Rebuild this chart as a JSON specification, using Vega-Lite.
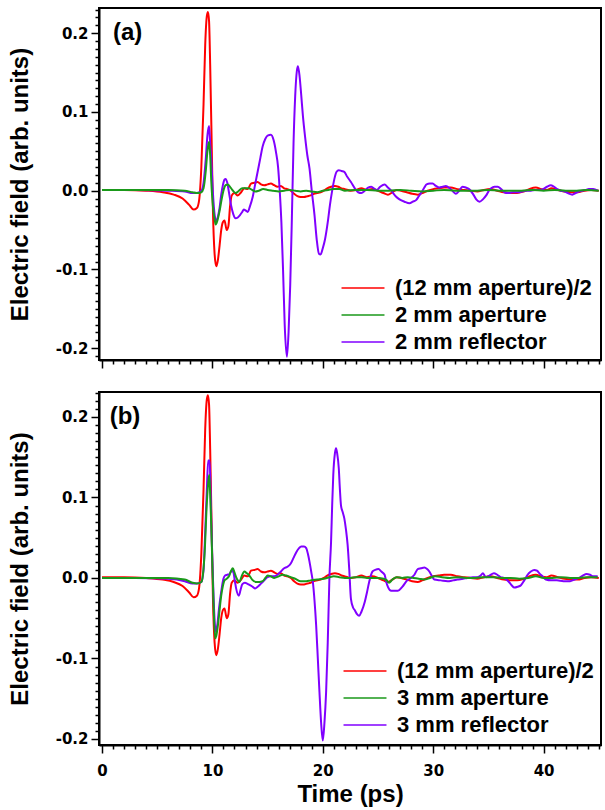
{
"$schema": "https://vega.github.io/schema/vega-lite/v6.json",
"background": "white",
"padding": {"left": 7, "top": 1, "right": 1, "bottom": 0},
"spacing": 14,
"config": {
  "view": {"stroke": "black", "strokeWidth": 2},
  "axis": {"domainColor": "black", "domainWidth": 2, "tickColor": "black", "tickWidth": 1.5, "labelFont": "DejaVu Sans", "labelFontWeight": "bold", "labelFontSize": 15, "labelColor": "black", "titleFont": "Liberation Sans", "titleFontWeight": "bold", "titleFontSize": 24, "titleColor": "black", "grid": false, "labelOverlap": false, "labelFlush": false, "labelBound": false},
  "legend": {"labelFont": "Liberation Sans", "labelFontWeight": "bold", "labelFontSize": 22, "labelColor": "black", "labelLimit": 400, "padding": 0, "rowPadding": 5}
},
"data": {"values": [
{"p":"ab","s":"(12 mm aperture)/2","t":0,"v":0.001},{"p":"ab","s":"(12 mm aperture)/2","t":2,"v":0.001},{"p":"ab","s":"(12 mm aperture)/2","t":4,"v":0.0},{"p":"ab","s":"(12 mm aperture)/2","t":5.5,"v":-0.002},{"p":"ab","s":"(12 mm aperture)/2","t":6.5,"v":-0.005},{"p":"ab","s":"(12 mm aperture)/2","t":7.3,"v":-0.01},{"p":"ab","s":"(12 mm aperture)/2","t":7.9,"v":-0.018},{"p":"ab","s":"(12 mm aperture)/2","t":8.3,"v":-0.024},{"p":"ab","s":"(12 mm aperture)/2","t":8.6,"v":-0.022},{"p":"ab","s":"(12 mm aperture)/2","t":8.8,"v":-0.012},{"p":"ab","s":"(12 mm aperture)/2","t":9.0,"v":0.03},{"p":"ab","s":"(12 mm aperture)/2","t":9.2,"v":0.11},{"p":"ab","s":"(12 mm aperture)/2","t":9.35,"v":0.185},{"p":"ab","s":"(12 mm aperture)/2","t":9.5,"v":0.222},{"p":"ab","s":"(12 mm aperture)/2","t":9.6,"v":0.227},{"p":"ab","s":"(12 mm aperture)/2","t":9.7,"v":0.215},{"p":"ab","s":"(12 mm aperture)/2","t":9.8,"v":0.16},{"p":"ab","s":"(12 mm aperture)/2","t":9.95,"v":0.05},{"p":"ab","s":"(12 mm aperture)/2","t":10.05,"v":-0.025},{"p":"ab","s":"(12 mm aperture)/2","t":10.2,"v":-0.08},{"p":"ab","s":"(12 mm aperture)/2","t":10.35,"v":-0.096},{"p":"ab","s":"(12 mm aperture)/2","t":10.5,"v":-0.088},{"p":"ab","s":"(12 mm aperture)/2","t":10.65,"v":-0.07},{"p":"ab","s":"(12 mm aperture)/2","t":10.8,"v":-0.05},{"p":"ab","s":"(12 mm aperture)/2","t":10.95,"v":-0.04},{"p":"ab","s":"(12 mm aperture)/2","t":11.1,"v":-0.038},{"p":"ab","s":"(12 mm aperture)/2","t":11.3,"v":-0.05},{"p":"ab","s":"(12 mm aperture)/2","t":11.45,"v":-0.045},{"p":"ab","s":"(12 mm aperture)/2","t":11.6,"v":-0.02},{"p":"ab","s":"(12 mm aperture)/2","t":11.75,"v":-0.006},{"p":"ab","s":"(12 mm aperture)/2","t":12.0,"v":-0.003},{"p":"ab","s":"(12 mm aperture)/2","t":12.3,"v":-0.006},{"p":"ab","s":"(12 mm aperture)/2","t":12.6,"v":-0.002},{"p":"ab","s":"(12 mm aperture)/2","t":12.9,"v":0.003},{"p":"ab","s":"(12 mm aperture)/2","t":13.2,"v":0.002},{"p":"ab","s":"(12 mm aperture)/2","t":13.5,"v":0.009},{"p":"ab","s":"(12 mm aperture)/2","t":13.8,"v":0.01},{"p":"ab","s":"(12 mm aperture)/2","t":14.1,"v":0.011},{"p":"ab","s":"(12 mm aperture)/2","t":14.4,"v":0.008},{"p":"ab","s":"(12 mm aperture)/2","t":14.7,"v":0.007},{"p":"ab","s":"(12 mm aperture)/2","t":15.0,"v":0.008},{"p":"ab","s":"(12 mm aperture)/2","t":15.3,"v":0.009},{"p":"ab","s":"(12 mm aperture)/2","t":15.6,"v":0.007},{"p":"ab","s":"(12 mm aperture)/2","t":15.9,"v":0.005},{"p":"ab","s":"(12 mm aperture)/2","t":16.2,"v":0.006},{"p":"ab","s":"(12 mm aperture)/2","t":16.5,"v":0.003},{"p":"ab","s":"(12 mm aperture)/2","t":16.8,"v":0.002},{"p":"ab","s":"(12 mm aperture)/2","t":17.1,"v":0.0},{"p":"ab","s":"(12 mm aperture)/2","t":17.4,"v":-0.004},{"p":"ab","s":"(12 mm aperture)/2","t":17.7,"v":-0.007},{"p":"ab","s":"(12 mm aperture)/2","t":18.0,"v":-0.008},{"p":"ab","s":"(12 mm aperture)/2","t":18.3,"v":-0.008},{"p":"ab","s":"(12 mm aperture)/2","t":18.6,"v":-0.007},{"p":"ab","s":"(12 mm aperture)/2","t":18.9,"v":-0.006},{"p":"ab","s":"(12 mm aperture)/2","t":19.2,"v":-0.004},{"p":"ab","s":"(12 mm aperture)/2","t":19.5,"v":-0.003},{"p":"ab","s":"(12 mm aperture)/2","t":19.8,"v":-0.002},{"p":"ab","s":"(12 mm aperture)/2","t":20.1,"v":0.0},{"p":"ab","s":"(12 mm aperture)/2","t":20.4,"v":0.003},{"p":"ab","s":"(12 mm aperture)/2","t":20.75,"v":0.005},{"p":"ab","s":"(12 mm aperture)/2","t":21.1,"v":0.006},{"p":"ab","s":"(12 mm aperture)/2","t":21.4,"v":0.005},{"p":"ab","s":"(12 mm aperture)/2","t":21.7,"v":0.003},{"p":"ab","s":"(12 mm aperture)/2","t":22.0,"v":0.002},{"p":"ab","s":"(12 mm aperture)/2","t":22.5,"v":0.0},{"p":"ab","s":"(12 mm aperture)/2","t":23.0,"v":0.001},{"p":"ab","s":"(12 mm aperture)/2","t":23.5,"v":0.003},{"p":"ab","s":"(12 mm aperture)/2","t":24.0,"v":0.001},{"p":"ab","s":"(12 mm aperture)/2","t":24.5,"v":0.002},{"p":"ab","s":"(12 mm aperture)/2","t":25.0,"v":0.0},{"p":"ab","s":"(12 mm aperture)/2","t":25.5,"v":-0.003},{"p":"ab","s":"(12 mm aperture)/2","t":25.9,"v":-0.005},{"p":"ab","s":"(12 mm aperture)/2","t":26.3,"v":-0.002},{"p":"ab","s":"(12 mm aperture)/2","t":26.7,"v":0.001},{"p":"ab","s":"(12 mm aperture)/2","t":27.1,"v":0.0},{"p":"ab","s":"(12 mm aperture)/2","t":27.6,"v":-0.002},{"p":"ab","s":"(12 mm aperture)/2","t":28.1,"v":-0.004},{"p":"ab","s":"(12 mm aperture)/2","t":28.6,"v":-0.005},{"p":"ab","s":"(12 mm aperture)/2","t":29.0,"v":-0.003},{"p":"ab","s":"(12 mm aperture)/2","t":29.5,"v":0.0},{"p":"ab","s":"(12 mm aperture)/2","t":30.0,"v":0.002},{"p":"ab","s":"(12 mm aperture)/2","t":30.5,"v":0.003},{"p":"ab","s":"(12 mm aperture)/2","t":31.0,"v":0.004},{"p":"ab","s":"(12 mm aperture)/2","t":31.6,"v":0.004},{"p":"ab","s":"(12 mm aperture)/2","t":32.2,"v":0.002},{"p":"ab","s":"(12 mm aperture)/2","t":32.8,"v":0.001},{"p":"ab","s":"(12 mm aperture)/2","t":33.4,"v":0.0},{"p":"ab","s":"(12 mm aperture)/2","t":34.0,"v":-0.001},{"p":"ab","s":"(12 mm aperture)/2","t":34.6,"v":0.001},{"p":"ab","s":"(12 mm aperture)/2","t":35.2,"v":0.002},{"p":"ab","s":"(12 mm aperture)/2","t":35.8,"v":0.0},{"p":"ab","s":"(12 mm aperture)/2","t":36.4,"v":-0.002},{"p":"ab","s":"(12 mm aperture)/2","t":37.0,"v":-0.003},{"p":"ab","s":"(12 mm aperture)/2","t":37.6,"v":-0.003},{"p":"ab","s":"(12 mm aperture)/2","t":38.2,"v":-0.001},{"p":"ab","s":"(12 mm aperture)/2","t":38.7,"v":0.002},{"p":"ab","s":"(12 mm aperture)/2","t":39.3,"v":0.004},{"p":"ab","s":"(12 mm aperture)/2","t":39.8,"v":0.002},{"p":"ab","s":"(12 mm aperture)/2","t":40.3,"v":0.001},{"p":"ab","s":"(12 mm aperture)/2","t":40.7,"v":0.003},{"p":"ab","s":"(12 mm aperture)/2","t":41.3,"v":0.001},{"p":"ab","s":"(12 mm aperture)/2","t":41.9,"v":-0.001},{"p":"ab","s":"(12 mm aperture)/2","t":42.5,"v":-0.002},{"p":"ab","s":"(12 mm aperture)/2","t":43.1,"v":-0.002},{"p":"ab","s":"(12 mm aperture)/2","t":43.7,"v":0.0},{"p":"ab","s":"(12 mm aperture)/2","t":44.3,"v":0.001},{"p":"ab","s":"(12 mm aperture)/2","t":45.0,"v":0.0},
{"p":"a","s":"2 mm reflector","t":0,"v":0.001},{"p":"a","s":"2 mm reflector","t":3,"v":0.001},{"p":"a","s":"2 mm reflector","t":6,"v":0.0},{"p":"a","s":"2 mm reflector","t":7.5,"v":-0.001},{"p":"a","s":"2 mm reflector","t":8.2,"v":-0.003},{"p":"a","s":"2 mm reflector","t":8.6,"v":-0.003},{"p":"a","s":"2 mm reflector","t":9.0,"v":0.0},{"p":"a","s":"2 mm reflector","t":9.2,"v":0.01},{"p":"a","s":"2 mm reflector","t":9.4,"v":0.04},{"p":"a","s":"2 mm reflector","t":9.55,"v":0.07},{"p":"a","s":"2 mm reflector","t":9.7,"v":0.082},{"p":"a","s":"2 mm reflector","t":9.8,"v":0.06},{"p":"a","s":"2 mm reflector","t":9.9,"v":0.04},{"p":"a","s":"2 mm reflector","t":10.0,"v":0.01},{"p":"a","s":"2 mm reflector","t":10.1,"v":-0.014},{"p":"a","s":"2 mm reflector","t":10.25,"v":-0.035},{"p":"a","s":"2 mm reflector","t":10.35,"v":-0.039},{"p":"a","s":"2 mm reflector","t":10.5,"v":-0.033},{"p":"a","s":"2 mm reflector","t":10.65,"v":-0.022},{"p":"a","s":"2 mm reflector","t":10.8,"v":-0.005},{"p":"a","s":"2 mm reflector","t":10.95,"v":0.007},{"p":"a","s":"2 mm reflector","t":11.1,"v":0.014},{"p":"a","s":"2 mm reflector","t":11.2,"v":0.015},{"p":"a","s":"2 mm reflector","t":11.35,"v":0.01},{"p":"a","s":"2 mm reflector","t":11.5,"v":-0.002},{"p":"a","s":"2 mm reflector","t":11.7,"v":-0.019},{"p":"a","s":"2 mm reflector","t":11.9,"v":-0.03},{"p":"a","s":"2 mm reflector","t":12.1,"v":-0.035},{"p":"a","s":"2 mm reflector","t":12.3,"v":-0.034},{"p":"a","s":"2 mm reflector","t":12.5,"v":-0.031},{"p":"a","s":"2 mm reflector","t":12.7,"v":-0.027},{"p":"a","s":"2 mm reflector","t":12.85,"v":-0.024},{"p":"a","s":"2 mm reflector","t":13.0,"v":-0.025},{"p":"a","s":"2 mm reflector","t":13.2,"v":-0.027},{"p":"a","s":"2 mm reflector","t":13.4,"v":-0.02},{"p":"a","s":"2 mm reflector","t":13.65,"v":-0.008},{"p":"a","s":"2 mm reflector","t":13.9,"v":0.01},{"p":"a","s":"2 mm reflector","t":14.1,"v":0.024},{"p":"a","s":"2 mm reflector","t":14.35,"v":0.042},{"p":"a","s":"2 mm reflector","t":14.55,"v":0.056},{"p":"a","s":"2 mm reflector","t":14.8,"v":0.066},{"p":"a","s":"2 mm reflector","t":15.0,"v":0.07},{"p":"a","s":"2 mm reflector","t":15.3,"v":0.071},{"p":"a","s":"2 mm reflector","t":15.55,"v":0.064},{"p":"a","s":"2 mm reflector","t":15.75,"v":0.05},{"p":"a","s":"2 mm reflector","t":15.95,"v":0.03},{"p":"a","s":"2 mm reflector","t":16.1,"v":0.0},{"p":"a","s":"2 mm reflector","t":16.25,"v":-0.04},{"p":"a","s":"2 mm reflector","t":16.4,"v":-0.1},{"p":"a","s":"2 mm reflector","t":16.55,"v":-0.17},{"p":"a","s":"2 mm reflector","t":16.75,"v":-0.211},{"p":"a","s":"2 mm reflector","t":16.9,"v":-0.18},{"p":"a","s":"2 mm reflector","t":17.05,"v":-0.12},{"p":"a","s":"2 mm reflector","t":17.2,"v":-0.035},{"p":"a","s":"2 mm reflector","t":17.35,"v":0.06},{"p":"a","s":"2 mm reflector","t":17.5,"v":0.12},{"p":"a","s":"2 mm reflector","t":17.65,"v":0.152},{"p":"a","s":"2 mm reflector","t":17.75,"v":0.158},{"p":"a","s":"2 mm reflector","t":17.9,"v":0.145},{"p":"a","s":"2 mm reflector","t":18.05,"v":0.121},{"p":"a","s":"2 mm reflector","t":18.2,"v":0.095},{"p":"a","s":"2 mm reflector","t":18.4,"v":0.068},{"p":"a","s":"2 mm reflector","t":18.6,"v":0.045},{"p":"a","s":"2 mm reflector","t":18.8,"v":0.028},{"p":"a","s":"2 mm reflector","t":19.0,"v":0.0},{"p":"a","s":"2 mm reflector","t":19.25,"v":-0.031},{"p":"a","s":"2 mm reflector","t":19.45,"v":-0.062},{"p":"a","s":"2 mm reflector","t":19.65,"v":-0.08},{"p":"a","s":"2 mm reflector","t":19.8,"v":-0.081},{"p":"a","s":"2 mm reflector","t":20.0,"v":-0.073},{"p":"a","s":"2 mm reflector","t":20.2,"v":-0.062},{"p":"a","s":"2 mm reflector","t":20.45,"v":-0.04},{"p":"a","s":"2 mm reflector","t":20.65,"v":-0.018},{"p":"a","s":"2 mm reflector","t":20.85,"v":0.0},{"p":"a","s":"2 mm reflector","t":21.05,"v":0.015},{"p":"a","s":"2 mm reflector","t":21.25,"v":0.024},{"p":"a","s":"2 mm reflector","t":21.45,"v":0.026},{"p":"a","s":"2 mm reflector","t":21.7,"v":0.025},{"p":"a","s":"2 mm reflector","t":21.95,"v":0.024},{"p":"a","s":"2 mm reflector","t":22.2,"v":0.018},{"p":"a","s":"2 mm reflector","t":22.55,"v":0.011},{"p":"a","s":"2 mm reflector","t":22.9,"v":0.003},{"p":"a","s":"2 mm reflector","t":23.2,"v":-0.002},{"p":"a","s":"2 mm reflector","t":23.5,"v":-0.003},{"p":"a","s":"2 mm reflector","t":23.8,"v":0.0},{"p":"a","s":"2 mm reflector","t":24.1,"v":0.004},{"p":"a","s":"2 mm reflector","t":24.4,"v":0.005},{"p":"a","s":"2 mm reflector","t":24.7,"v":0.002},{"p":"a","s":"2 mm reflector","t":24.9,"v":0.001},{"p":"a","s":"2 mm reflector","t":25.2,"v":0.005},{"p":"a","s":"2 mm reflector","t":25.6,"v":0.008},{"p":"a","s":"2 mm reflector","t":25.9,"v":0.004},{"p":"a","s":"2 mm reflector","t":26.2,"v":0.0},{"p":"a","s":"2 mm reflector","t":26.6,"v":-0.007},{"p":"a","s":"2 mm reflector","t":26.95,"v":-0.011},{"p":"a","s":"2 mm reflector","t":27.4,"v":-0.014},{"p":"a","s":"2 mm reflector","t":27.85,"v":-0.016},{"p":"a","s":"2 mm reflector","t":28.15,"v":-0.014},{"p":"a","s":"2 mm reflector","t":28.45,"v":-0.012},{"p":"a","s":"2 mm reflector","t":28.7,"v":-0.007},{"p":"a","s":"2 mm reflector","t":28.95,"v":-0.002},{"p":"a","s":"2 mm reflector","t":29.2,"v":0.004},{"p":"a","s":"2 mm reflector","t":29.4,"v":0.008},{"p":"a","s":"2 mm reflector","t":29.7,"v":0.009},{"p":"a","s":"2 mm reflector","t":29.95,"v":0.009},{"p":"a","s":"2 mm reflector","t":30.25,"v":0.006},{"p":"a","s":"2 mm reflector","t":30.55,"v":0.004},{"p":"a","s":"2 mm reflector","t":30.85,"v":0.005},{"p":"a","s":"2 mm reflector","t":31.15,"v":0.006},{"p":"a","s":"2 mm reflector","t":31.5,"v":0.003},{"p":"a","s":"2 mm reflector","t":31.8,"v":-0.001},{"p":"a","s":"2 mm reflector","t":32.05,"v":-0.004},{"p":"a","s":"2 mm reflector","t":32.35,"v":0.0},{"p":"a","s":"2 mm reflector","t":32.65,"v":0.005},{"p":"a","s":"2 mm reflector","t":32.95,"v":0.004},{"p":"a","s":"2 mm reflector","t":33.25,"v":0.002},{"p":"a","s":"2 mm reflector","t":33.6,"v":-0.004},{"p":"a","s":"2 mm reflector","t":33.9,"v":-0.011},{"p":"a","s":"2 mm reflector","t":34.2,"v":-0.014},{"p":"a","s":"2 mm reflector","t":34.5,"v":-0.011},{"p":"a","s":"2 mm reflector","t":34.8,"v":-0.006},{"p":"a","s":"2 mm reflector","t":35.05,"v":0.0},{"p":"a","s":"2 mm reflector","t":35.25,"v":0.003},{"p":"a","s":"2 mm reflector","t":35.55,"v":0.005},{"p":"a","s":"2 mm reflector","t":35.85,"v":0.005},{"p":"a","s":"2 mm reflector","t":36.15,"v":0.002},{"p":"a","s":"2 mm reflector","t":36.45,"v":-0.002},{"p":"a","s":"2 mm reflector","t":36.75,"v":-0.003},{"p":"a","s":"2 mm reflector","t":37.2,"v":-0.002},{"p":"a","s":"2 mm reflector","t":37.65,"v":-0.002},{"p":"a","s":"2 mm reflector","t":38.1,"v":-0.001},{"p":"a","s":"2 mm reflector","t":38.5,"v":0.0},{"p":"a","s":"2 mm reflector","t":38.85,"v":0.0},{"p":"a","s":"2 mm reflector","t":39.2,"v":0.001},{"p":"a","s":"2 mm reflector","t":39.6,"v":0.001},{"p":"a","s":"2 mm reflector","t":39.95,"v":0.002},{"p":"a","s":"2 mm reflector","t":40.3,"v":0.005},{"p":"a","s":"2 mm reflector","t":40.65,"v":0.007},{"p":"a","s":"2 mm reflector","t":40.95,"v":0.005},{"p":"a","s":"2 mm reflector","t":41.25,"v":0.002},{"p":"a","s":"2 mm reflector","t":41.55,"v":0.0},{"p":"a","s":"2 mm reflector","t":41.9,"v":-0.001},{"p":"a","s":"2 mm reflector","t":42.2,"v":-0.003},{"p":"a","s":"2 mm reflector","t":42.6,"v":-0.005},{"p":"a","s":"2 mm reflector","t":42.9,"v":-0.003},{"p":"a","s":"2 mm reflector","t":43.2,"v":-0.001},{"p":"a","s":"2 mm reflector","t":43.5,"v":0.0},{"p":"a","s":"2 mm reflector","t":43.8,"v":0.001},{"p":"a","s":"2 mm reflector","t":44.1,"v":0.002},{"p":"a","s":"2 mm reflector","t":44.5,"v":0.002},{"p":"a","s":"2 mm reflector","t":44.9,"v":0.0},
{"p":"a","s":"2 mm aperture","t":0,"v":0.001},{"p":"a","s":"2 mm aperture","t":3,"v":0.001},{"p":"a","s":"2 mm aperture","t":6,"v":0.001},{"p":"a","s":"2 mm aperture","t":7.5,"v":0.0},{"p":"a","s":"2 mm aperture","t":8.2,"v":-0.002},{"p":"a","s":"2 mm aperture","t":8.6,"v":-0.003},{"p":"a","s":"2 mm aperture","t":9.0,"v":-0.002},{"p":"a","s":"2 mm aperture","t":9.2,"v":0.003},{"p":"a","s":"2 mm aperture","t":9.4,"v":0.025},{"p":"a","s":"2 mm aperture","t":9.55,"v":0.05},{"p":"a","s":"2 mm aperture","t":9.7,"v":0.062},{"p":"a","s":"2 mm aperture","t":9.8,"v":0.045},{"p":"a","s":"2 mm aperture","t":9.9,"v":0.012},{"p":"a","s":"2 mm aperture","t":10.05,"v":-0.02},{"p":"a","s":"2 mm aperture","t":10.2,"v":-0.036},{"p":"a","s":"2 mm aperture","t":10.3,"v":-0.043},{"p":"a","s":"2 mm aperture","t":10.45,"v":-0.038},{"p":"a","s":"2 mm aperture","t":10.65,"v":-0.026},{"p":"a","s":"2 mm aperture","t":10.85,"v":-0.01},{"p":"a","s":"2 mm aperture","t":11.0,"v":0.0},{"p":"a","s":"2 mm aperture","t":11.2,"v":0.007},{"p":"a","s":"2 mm aperture","t":11.4,"v":0.008},{"p":"a","s":"2 mm aperture","t":11.6,"v":0.005},{"p":"a","s":"2 mm aperture","t":11.8,"v":0.001},{"p":"a","s":"2 mm aperture","t":12.1,"v":-0.003},{"p":"a","s":"2 mm aperture","t":12.4,"v":0.0},{"p":"a","s":"2 mm aperture","t":12.7,"v":0.003},{"p":"a","s":"2 mm aperture","t":13.0,"v":0.003},{"p":"a","s":"2 mm aperture","t":13.3,"v":0.003},{"p":"a","s":"2 mm aperture","t":13.6,"v":0.001},{"p":"a","s":"2 mm aperture","t":13.9,"v":-0.001},{"p":"a","s":"2 mm aperture","t":14.2,"v":0.0},{"p":"a","s":"2 mm aperture","t":14.6,"v":0.002},{"p":"a","s":"2 mm aperture","t":15.0,"v":0.001},{"p":"a","s":"2 mm aperture","t":15.5,"v":0.0},{"p":"a","s":"2 mm aperture","t":16.0,"v":-0.001},{"p":"a","s":"2 mm aperture","t":16.5,"v":0.0},{"p":"a","s":"2 mm aperture","t":17.0,"v":0.001},{"p":"a","s":"2 mm aperture","t":17.5,"v":0.0},{"p":"a","s":"2 mm aperture","t":18.0,"v":-0.001},{"p":"a","s":"2 mm aperture","t":18.5,"v":0.0},{"p":"a","s":"2 mm aperture","t":19.0,"v":-0.001},{"p":"a","s":"2 mm aperture","t":19.5,"v":-0.002},{"p":"a","s":"2 mm aperture","t":20.0,"v":0.0},{"p":"a","s":"2 mm aperture","t":20.5,"v":0.001},{"p":"a","s":"2 mm aperture","t":21.0,"v":0.002},{"p":"a","s":"2 mm aperture","t":21.5,"v":0.002},{"p":"a","s":"2 mm aperture","t":22.0,"v":0.0},{"p":"a","s":"2 mm aperture","t":23.0,"v":0.001},{"p":"a","s":"2 mm aperture","t":24.0,"v":0.001},{"p":"a","s":"2 mm aperture","t":25.0,"v":0.0},{"p":"a","s":"2 mm aperture","t":26.0,"v":0.0},{"p":"a","s":"2 mm aperture","t":27.0,"v":0.001},{"p":"a","s":"2 mm aperture","t":28.0,"v":0.0},{"p":"a","s":"2 mm aperture","t":29.0,"v":-0.001},{"p":"a","s":"2 mm aperture","t":30.0,"v":0.0},{"p":"a","s":"2 mm aperture","t":31.0,"v":0.001},{"p":"a","s":"2 mm aperture","t":32.0,"v":0.0},{"p":"a","s":"2 mm aperture","t":33.0,"v":0.0},{"p":"a","s":"2 mm aperture","t":34.0,"v":0.0},{"p":"a","s":"2 mm aperture","t":35.0,"v":0.001},{"p":"a","s":"2 mm aperture","t":36.0,"v":0.0},{"p":"a","s":"2 mm aperture","t":37.0,"v":0.0},{"p":"a","s":"2 mm aperture","t":38.0,"v":0.0},{"p":"a","s":"2 mm aperture","t":39.0,"v":0.001},{"p":"a","s":"2 mm aperture","t":40.0,"v":0.0},{"p":"a","s":"2 mm aperture","t":41.0,"v":0.001},{"p":"a","s":"2 mm aperture","t":42.0,"v":0.0},{"p":"a","s":"2 mm aperture","t":43.0,"v":0.0},{"p":"a","s":"2 mm aperture","t":44.0,"v":0.001},{"p":"a","s":"2 mm aperture","t":45.0,"v":0.0},
{"p":"b","s":"3 mm reflector","t":0,"v":0.0},{"p":"b","s":"3 mm reflector","t":3,"v":0.0},{"p":"b","s":"3 mm reflector","t":6,"v":-0.001},{"p":"b","s":"3 mm reflector","t":7.5,"v":-0.004},{"p":"b","s":"3 mm reflector","t":8.2,"v":-0.007},{"p":"b","s":"3 mm reflector","t":8.6,"v":-0.007},{"p":"b","s":"3 mm reflector","t":9.0,"v":-0.005},{"p":"b","s":"3 mm reflector","t":9.2,"v":0.01},{"p":"b","s":"3 mm reflector","t":9.35,"v":0.057},{"p":"b","s":"3 mm reflector","t":9.5,"v":0.11},{"p":"b","s":"3 mm reflector","t":9.62,"v":0.146},{"p":"b","s":"3 mm reflector","t":9.75,"v":0.146},{"p":"b","s":"3 mm reflector","t":9.85,"v":0.1},{"p":"b","s":"3 mm reflector","t":9.95,"v":0.045},{"p":"b","s":"3 mm reflector","t":10.05,"v":0.0},{"p":"b","s":"3 mm reflector","t":10.15,"v":-0.038},{"p":"b","s":"3 mm reflector","t":10.3,"v":-0.067},{"p":"b","s":"3 mm reflector","t":10.45,"v":-0.058},{"p":"b","s":"3 mm reflector","t":10.6,"v":-0.038},{"p":"b","s":"3 mm reflector","t":10.8,"v":-0.017},{"p":"b","s":"3 mm reflector","t":11.0,"v":-0.001},{"p":"b","s":"3 mm reflector","t":11.15,"v":0.003},{"p":"b","s":"3 mm reflector","t":11.35,"v":0.004},{"p":"b","s":"3 mm reflector","t":11.55,"v":0.005},{"p":"b","s":"3 mm reflector","t":11.75,"v":0.009},{"p":"b","s":"3 mm reflector","t":11.9,"v":0.007},{"p":"b","s":"3 mm reflector","t":12.05,"v":-0.005},{"p":"b","s":"3 mm reflector","t":12.15,"v":-0.013},{"p":"b","s":"3 mm reflector","t":12.4,"v":-0.022},{"p":"b","s":"3 mm reflector","t":12.55,"v":-0.015},{"p":"b","s":"3 mm reflector","t":12.7,"v":-0.008},{"p":"b","s":"3 mm reflector","t":12.95,"v":-0.006},{"p":"b","s":"3 mm reflector","t":13.15,"v":-0.007},{"p":"b","s":"3 mm reflector","t":13.4,"v":-0.009},{"p":"b","s":"3 mm reflector","t":13.65,"v":-0.011},{"p":"b","s":"3 mm reflector","t":13.87,"v":-0.013},{"p":"b","s":"3 mm reflector","t":14.1,"v":-0.011},{"p":"b","s":"3 mm reflector","t":14.4,"v":-0.007},{"p":"b","s":"3 mm reflector","t":14.7,"v":-0.003},{"p":"b","s":"3 mm reflector","t":15.0,"v":0.001},{"p":"b","s":"3 mm reflector","t":15.3,"v":0.002},{"p":"b","s":"3 mm reflector","t":15.6,"v":0.002},{"p":"b","s":"3 mm reflector","t":15.9,"v":0.004},{"p":"b","s":"3 mm reflector","t":16.2,"v":0.008},{"p":"b","s":"3 mm reflector","t":16.5,"v":0.012},{"p":"b","s":"3 mm reflector","t":16.8,"v":0.014},{"p":"b","s":"3 mm reflector","t":17.1,"v":0.018},{"p":"b","s":"3 mm reflector","t":17.35,"v":0.025},{"p":"b","s":"3 mm reflector","t":17.6,"v":0.032},{"p":"b","s":"3 mm reflector","t":17.85,"v":0.037},{"p":"b","s":"3 mm reflector","t":18.05,"v":0.039},{"p":"b","s":"3 mm reflector","t":18.3,"v":0.039},{"p":"b","s":"3 mm reflector","t":18.5,"v":0.037},{"p":"b","s":"3 mm reflector","t":18.65,"v":0.03},{"p":"b","s":"3 mm reflector","t":18.8,"v":0.02},{"p":"b","s":"3 mm reflector","t":18.95,"v":0.008},{"p":"b","s":"3 mm reflector","t":19.1,"v":-0.005},{"p":"b","s":"3 mm reflector","t":19.25,"v":-0.028},{"p":"b","s":"3 mm reflector","t":19.4,"v":-0.059},{"p":"b","s":"3 mm reflector","t":19.55,"v":-0.1},{"p":"b","s":"3 mm reflector","t":19.7,"v":-0.142},{"p":"b","s":"3 mm reflector","t":19.85,"v":-0.18},{"p":"b","s":"3 mm reflector","t":20.0,"v":-0.202},{"p":"b","s":"3 mm reflector","t":20.15,"v":-0.18},{"p":"b","s":"3 mm reflector","t":20.3,"v":-0.142},{"p":"b","s":"3 mm reflector","t":20.45,"v":-0.08},{"p":"b","s":"3 mm reflector","t":20.6,"v":0.0},{"p":"b","s":"3 mm reflector","t":20.75,"v":0.045},{"p":"b","s":"3 mm reflector","t":20.85,"v":0.09},{"p":"b","s":"3 mm reflector","t":20.95,"v":0.128},{"p":"b","s":"3 mm reflector","t":21.1,"v":0.155},{"p":"b","s":"3 mm reflector","t":21.2,"v":0.161},{"p":"b","s":"3 mm reflector","t":21.3,"v":0.155},{"p":"b","s":"3 mm reflector","t":21.45,"v":0.136},{"p":"b","s":"3 mm reflector","t":21.55,"v":0.11},{"p":"b","s":"3 mm reflector","t":21.65,"v":0.09},{"p":"b","s":"3 mm reflector","t":21.8,"v":0.082},{"p":"b","s":"3 mm reflector","t":21.95,"v":0.074},{"p":"b","s":"3 mm reflector","t":22.1,"v":0.06},{"p":"b","s":"3 mm reflector","t":22.25,"v":0.041},{"p":"b","s":"3 mm reflector","t":22.4,"v":0.01},{"p":"b","s":"3 mm reflector","t":22.55,"v":-0.026},{"p":"b","s":"3 mm reflector","t":22.75,"v":-0.037},{"p":"b","s":"3 mm reflector","t":22.9,"v":-0.04},{"p":"b","s":"3 mm reflector","t":23.1,"v":-0.045},{"p":"b","s":"3 mm reflector","t":23.3,"v":-0.047},{"p":"b","s":"3 mm reflector","t":23.5,"v":-0.042},{"p":"b","s":"3 mm reflector","t":23.8,"v":-0.03},{"p":"b","s":"3 mm reflector","t":24.0,"v":-0.018},{"p":"b","s":"3 mm reflector","t":24.2,"v":-0.005},{"p":"b","s":"3 mm reflector","t":24.5,"v":0.008},{"p":"b","s":"3 mm reflector","t":24.75,"v":0.01},{"p":"b","s":"3 mm reflector","t":25.05,"v":0.011},{"p":"b","s":"3 mm reflector","t":25.3,"v":0.008},{"p":"b","s":"3 mm reflector","t":25.6,"v":0.004},{"p":"b","s":"3 mm reflector","t":25.75,"v":-0.005},{"p":"b","s":"3 mm reflector","t":25.9,"v":-0.011},{"p":"b","s":"3 mm reflector","t":26.2,"v":-0.016},{"p":"b","s":"3 mm reflector","t":26.5,"v":-0.016},{"p":"b","s":"3 mm reflector","t":26.8,"v":-0.016},{"p":"b","s":"3 mm reflector","t":27.2,"v":-0.011},{"p":"b","s":"3 mm reflector","t":27.65,"v":-0.003},{"p":"b","s":"3 mm reflector","t":28.0,"v":0.0},{"p":"b","s":"3 mm reflector","t":28.3,"v":0.004},{"p":"b","s":"3 mm reflector","t":28.6,"v":0.011},{"p":"b","s":"3 mm reflector","t":28.9,"v":0.012},{"p":"b","s":"3 mm reflector","t":29.2,"v":0.013},{"p":"b","s":"3 mm reflector","t":29.45,"v":0.011},{"p":"b","s":"3 mm reflector","t":29.65,"v":0.008},{"p":"b","s":"3 mm reflector","t":29.9,"v":0.002},{"p":"b","s":"3 mm reflector","t":30.1,"v":-0.002},{"p":"b","s":"3 mm reflector","t":30.7,"v":-0.003},{"p":"b","s":"3 mm reflector","t":31.3,"v":-0.004},{"p":"b","s":"3 mm reflector","t":31.8,"v":-0.003},{"p":"b","s":"3 mm reflector","t":32.2,"v":-0.002},{"p":"b","s":"3 mm reflector","t":32.7,"v":-0.001},{"p":"b","s":"3 mm reflector","t":33.1,"v":0.0},{"p":"b","s":"3 mm reflector","t":33.6,"v":0.001},{"p":"b","s":"3 mm reflector","t":34.0,"v":0.001},{"p":"b","s":"3 mm reflector","t":34.3,"v":0.003},{"p":"b","s":"3 mm reflector","t":34.5,"v":0.006},{"p":"b","s":"3 mm reflector","t":34.65,"v":0.003},{"p":"b","s":"3 mm reflector","t":34.8,"v":0.001},{"p":"b","s":"3 mm reflector","t":35.1,"v":0.003},{"p":"b","s":"3 mm reflector","t":35.5,"v":0.006},{"p":"b","s":"3 mm reflector","t":35.8,"v":0.004},{"p":"b","s":"3 mm reflector","t":36.1,"v":0.001},{"p":"b","s":"3 mm reflector","t":36.4,"v":0.0},{"p":"b","s":"3 mm reflector","t":36.8,"v":-0.004},{"p":"b","s":"3 mm reflector","t":37.1,"v":-0.009},{"p":"b","s":"3 mm reflector","t":37.35,"v":-0.012},{"p":"b","s":"3 mm reflector","t":37.65,"v":-0.011},{"p":"b","s":"3 mm reflector","t":37.95,"v":-0.009},{"p":"b","s":"3 mm reflector","t":38.25,"v":-0.003},{"p":"b","s":"3 mm reflector","t":38.55,"v":0.004},{"p":"b","s":"3 mm reflector","t":38.85,"v":0.008},{"p":"b","s":"3 mm reflector","t":39.15,"v":0.01},{"p":"b","s":"3 mm reflector","t":39.4,"v":0.009},{"p":"b","s":"3 mm reflector","t":39.6,"v":0.006},{"p":"b","s":"3 mm reflector","t":39.9,"v":0.002},{"p":"b","s":"3 mm reflector","t":40.2,"v":-0.002},{"p":"b","s":"3 mm reflector","t":40.7,"v":-0.003},{"p":"b","s":"3 mm reflector","t":41.2,"v":-0.003},{"p":"b","s":"3 mm reflector","t":41.8,"v":-0.004},{"p":"b","s":"3 mm reflector","t":42.4,"v":-0.004},{"p":"b","s":"3 mm reflector","t":42.8,"v":-0.002},{"p":"b","s":"3 mm reflector","t":43.2,"v":0.0},{"p":"b","s":"3 mm reflector","t":43.55,"v":0.003},{"p":"b","s":"3 mm reflector","t":43.9,"v":0.005},{"p":"b","s":"3 mm reflector","t":44.2,"v":0.004},{"p":"b","s":"3 mm reflector","t":44.5,"v":0.002},{"p":"b","s":"3 mm reflector","t":44.9,"v":0.002},
{"p":"b","s":"3 mm aperture","t":0,"v":0.0},{"p":"b","s":"3 mm aperture","t":3,"v":0.0},{"p":"b","s":"3 mm aperture","t":6,"v":0.0},{"p":"b","s":"3 mm aperture","t":7.5,"v":-0.002},{"p":"b","s":"3 mm aperture","t":8.2,"v":-0.006},{"p":"b","s":"3 mm aperture","t":8.6,"v":-0.007},{"p":"b","s":"3 mm aperture","t":9.0,"v":-0.005},{"p":"b","s":"3 mm aperture","t":9.15,"v":0.005},{"p":"b","s":"3 mm aperture","t":9.3,"v":0.032},{"p":"b","s":"3 mm aperture","t":9.5,"v":0.094},{"p":"b","s":"3 mm aperture","t":9.65,"v":0.122},{"p":"b","s":"3 mm aperture","t":9.72,"v":0.128},{"p":"b","s":"3 mm aperture","t":9.8,"v":0.105},{"p":"b","s":"3 mm aperture","t":9.9,"v":0.065},{"p":"b","s":"3 mm aperture","t":10.0,"v":0.015},{"p":"b","s":"3 mm aperture","t":10.1,"v":-0.03},{"p":"b","s":"3 mm aperture","t":10.25,"v":-0.075},{"p":"b","s":"3 mm aperture","t":10.35,"v":-0.072},{"p":"b","s":"3 mm aperture","t":10.5,"v":-0.059},{"p":"b","s":"3 mm aperture","t":10.65,"v":-0.04},{"p":"b","s":"3 mm aperture","t":10.8,"v":-0.022},{"p":"b","s":"3 mm aperture","t":10.95,"v":-0.01},{"p":"b","s":"3 mm aperture","t":11.1,"v":-0.003},{"p":"b","s":"3 mm aperture","t":11.3,"v":-0.001},{"p":"b","s":"3 mm aperture","t":11.5,"v":0.002},{"p":"b","s":"3 mm aperture","t":11.7,"v":0.009},{"p":"b","s":"3 mm aperture","t":11.85,"v":0.012},{"p":"b","s":"3 mm aperture","t":12.0,"v":0.007},{"p":"b","s":"3 mm aperture","t":12.15,"v":0.001},{"p":"b","s":"3 mm aperture","t":12.3,"v":-0.003},{"p":"b","s":"3 mm aperture","t":12.45,"v":-0.005},{"p":"b","s":"3 mm aperture","t":12.65,"v":0.002},{"p":"b","s":"3 mm aperture","t":12.9,"v":0.008},{"p":"b","s":"3 mm aperture","t":13.1,"v":0.006},{"p":"b","s":"3 mm aperture","t":13.35,"v":0.003},{"p":"b","s":"3 mm aperture","t":13.6,"v":-0.002},{"p":"b","s":"3 mm aperture","t":13.95,"v":-0.005},{"p":"b","s":"3 mm aperture","t":14.25,"v":-0.005},{"p":"b","s":"3 mm aperture","t":14.55,"v":-0.004},{"p":"b","s":"3 mm aperture","t":14.8,"v":0.0},{"p":"b","s":"3 mm aperture","t":15.0,"v":0.003},{"p":"b","s":"3 mm aperture","t":15.3,"v":0.002},{"p":"b","s":"3 mm aperture","t":15.6,"v":0.0},{"p":"b","s":"3 mm aperture","t":16.0,"v":0.002},{"p":"b","s":"3 mm aperture","t":16.35,"v":0.004},{"p":"b","s":"3 mm aperture","t":16.7,"v":0.003},{"p":"b","s":"3 mm aperture","t":17.1,"v":0.001},{"p":"b","s":"3 mm aperture","t":17.5,"v":-0.001},{"p":"b","s":"3 mm aperture","t":18.0,"v":-0.004},{"p":"b","s":"3 mm aperture","t":18.5,"v":-0.004},{"p":"b","s":"3 mm aperture","t":18.9,"v":-0.003},{"p":"b","s":"3 mm aperture","t":19.5,"v":-0.002},{"p":"b","s":"3 mm aperture","t":20.1,"v":-0.001},{"p":"b","s":"3 mm aperture","t":20.6,"v":0.001},{"p":"b","s":"3 mm aperture","t":21.0,"v":0.002},{"p":"b","s":"3 mm aperture","t":21.5,"v":0.001},{"p":"b","s":"3 mm aperture","t":22.0,"v":0.0},{"p":"b","s":"3 mm aperture","t":22.5,"v":0.0},{"p":"b","s":"3 mm aperture","t":23.0,"v":0.001},{"p":"b","s":"3 mm aperture","t":23.5,"v":0.001},{"p":"b","s":"3 mm aperture","t":24.0,"v":0.0},{"p":"b","s":"3 mm aperture","t":24.5,"v":0.0},{"p":"b","s":"3 mm aperture","t":25.0,"v":0.0},{"p":"b","s":"3 mm aperture","t":25.5,"v":-0.001},{"p":"b","s":"3 mm aperture","t":25.8,"v":-0.003},{"p":"b","s":"3 mm aperture","t":26.0,"v":-0.006},{"p":"b","s":"3 mm aperture","t":26.3,"v":-0.002},{"p":"b","s":"3 mm aperture","t":26.7,"v":0.001},{"p":"b","s":"3 mm aperture","t":27.2,"v":0.0},{"p":"b","s":"3 mm aperture","t":27.7,"v":0.001},{"p":"b","s":"3 mm aperture","t":28.2,"v":0.0},{"p":"b","s":"3 mm aperture","t":28.7,"v":-0.001},{"p":"b","s":"3 mm aperture","t":29.2,"v":-0.002},{"p":"b","s":"3 mm aperture","t":29.7,"v":0.0},{"p":"b","s":"3 mm aperture","t":30.2,"v":0.002},{"p":"b","s":"3 mm aperture","t":30.8,"v":0.001},{"p":"b","s":"3 mm aperture","t":31.5,"v":0.0},{"p":"b","s":"3 mm aperture","t":32.2,"v":0.001},{"p":"b","s":"3 mm aperture","t":33.0,"v":0.0},{"p":"b","s":"3 mm aperture","t":33.8,"v":0.0},{"p":"b","s":"3 mm aperture","t":34.6,"v":0.001},{"p":"b","s":"3 mm aperture","t":35.4,"v":0.001},{"p":"b","s":"3 mm aperture","t":36.2,"v":0.0},{"p":"b","s":"3 mm aperture","t":37.0,"v":0.0},{"p":"b","s":"3 mm aperture","t":37.8,"v":-0.001},{"p":"b","s":"3 mm aperture","t":38.6,"v":0.0},{"p":"b","s":"3 mm aperture","t":39.3,"v":0.002},{"p":"b","s":"3 mm aperture","t":40.0,"v":0.0},{"p":"b","s":"3 mm aperture","t":40.8,"v":0.0},{"p":"b","s":"3 mm aperture","t":41.6,"v":0.001},{"p":"b","s":"3 mm aperture","t":42.4,"v":0.0},{"p":"b","s":"3 mm aperture","t":43.2,"v":0.0},{"p":"b","s":"3 mm aperture","t":44.0,"v":0.001},{"p":"b","s":"3 mm aperture","t":44.9,"v":0.001}
]},
"vconcat": [
 {
  "width": 502, "height": 352,
  "layer": [
   {
    "transform": [{"filter": "indexof(datum.p, 'a') >= 0"}],
    "mark": {"type": "line", "strokeWidth": 2, "interpolate": "monotone"},
    "encoding": {
     "x": {"field": "t", "type": "quantitative", "scale": {"domain": [-0.27, 45.2], "nice": false, "zero": false},
       "axis": {"values": [0,1,2,3,4,5,6,7,8,9,10,11,12,13,14,15,16,17,18,19,20,21,22,23,24,25,26,27,28,29,30,31,32,33,34,35,36,37,38,39,40,41,42,43,44,45], "tickCount": 1000, "labels": false, "title": null, "labelOverlap": false, "tickSize": {"condition": {"test": "datum.value % 10 === 0", "value": 8}, "value": 4}}},
     "y": {"field": "v", "type": "quantitative", "scale": {"domain": [-0.215, 0.232], "nice": false, "zero": false},
       "axis": {"values": [-0.21,-0.2,-0.19,-0.18,-0.17,-0.16,-0.15,-0.14,-0.13,-0.12,-0.11,-0.1,-0.09,-0.08,-0.07,-0.06,-0.05,-0.04,-0.03,-0.02,-0.01,0,0.01,0.02,0.03,0.04,0.05,0.06,0.07,0.08,0.09,0.1,0.11,0.12,0.13,0.14,0.15,0.16,0.17,0.18,0.19,0.2,0.21,0.22,0.23], "tickCount": 1000,
         "title": "Electric field (arb. units)", "titlePadding": 23, "labelPadding": 3, "labelOverlap": false, "labelFlush": false,
         "labelExpr": "abs(datum.value*10 - round(datum.value*10)) < 0.001 ? replace(format(datum.value, '.1f'), '\u2212', '-') : ''",
         "tickSize": {"condition": {"test": "abs(datum.value*10 - round(datum.value*10)) < 0.001", "value": 8}, "value": 4}}},
     "color": {"field": "s", "type": "nominal",
       "scale": {"domain": ["(12 mm aperture)/2", "2 mm aperture", "2 mm reflector"], "range": ["#ff0000", "#1a991a", "#8000ff"]},
       "legend": {"title": null, "orient": "none", "legendX": 242, "legendY": 269, "symbolType": "M-3,0H3", "symbolSize": 205, "symbolStrokeWidth": 1.5, "symbolOffset": 11, "labelOffset": 21}}
    }
   },
   {
    "data": {"values": [{"label": "(a)"}]},
    "mark": {"type": "text", "font": "Liberation Sans", "fontWeight": "bold", "fontSize": 24, "align": "left", "baseline": "middle", "color": "black"},
    "encoding": {"text": {"field": "label"}, "x": {"datum": 1.0, "type": "quantitative"}, "y": {"datum": 0.2, "type": "quantitative"}}
   }
  ]
 },
 {
  "width": 502, "height": 353,
  "layer": [
   {
    "transform": [{"filter": "indexof(datum.p, 'b') >= 0"}],
    "mark": {"type": "line", "strokeWidth": 2, "interpolate": "monotone"},
    "encoding": {
     "x": {"field": "t", "type": "quantitative", "scale": {"domain": [-0.27, 45.2], "nice": false, "zero": false},
       "axis": {"values": [0,1,2,3,4,5,6,7,8,9,10,11,12,13,14,15,16,17,18,19,20,21,22,23,24,25,26,27,28,29,30,31,32,33,34,35,36,37,38,39,40,41,42,43,44,45], "tickCount": 1000, "title": "Time (ps)", "titlePadding": 4, "labelPadding": 10, "labelOverlap": false, "labelFlush": false,
         "labelExpr": "datum.value % 10 === 0 ? format(datum.value, 'd') : ''",
         "tickSize": {"condition": {"test": "datum.value % 10 === 0", "value": 8}, "value": 4}}},
     "y": {"field": "v", "type": "quantitative", "scale": {"domain": [-0.2075, 0.231], "nice": false, "zero": false},
       "axis": {"values": [-0.2,-0.19,-0.18,-0.17,-0.16,-0.15,-0.14,-0.13,-0.12,-0.11,-0.1,-0.09,-0.08,-0.07,-0.06,-0.05,-0.04,-0.03,-0.02,-0.01,0,0.01,0.02,0.03,0.04,0.05,0.06,0.07,0.08,0.09,0.1,0.11,0.12,0.13,0.14,0.15,0.16,0.17,0.18,0.19,0.2,0.21,0.22,0.23], "tickCount": 1000,
         "title": "Electric field (arb. units)", "titlePadding": 23, "labelPadding": 3, "labelOverlap": false, "labelFlush": false,
         "labelExpr": "abs(datum.value*10 - round(datum.value*10)) < 0.001 ? replace(format(datum.value, '.1f'), '\u2212', '-') : ''",
         "tickSize": {"condition": {"test": "abs(datum.value*10 - round(datum.value*10)) < 0.001", "value": 8}, "value": 4}}},
     "color": {"field": "s", "type": "nominal",
       "scale": {"domain": ["(12 mm aperture)/2", "3 mm aperture", "3 mm reflector"], "range": ["#ff0000", "#1a991a", "#8000ff"]},
       "legend": {"title": null, "orient": "none", "legendX": 244, "legendY": 268, "symbolType": "M-3,0H3", "symbolSize": 205, "symbolStrokeWidth": 1.5, "symbolOffset": 11, "labelOffset": 21}}
    }
   },
   {
    "data": {"values": [{"label": "(b)"}]},
    "mark": {"type": "text", "font": "Liberation Sans", "fontWeight": "bold", "fontSize": 24, "align": "left", "baseline": "middle", "color": "black"},
    "encoding": {"text": {"field": "label"}, "x": {"datum": 0.7, "type": "quantitative"}, "y": {"datum": 0.2, "type": "quantitative"}}
   }
  ]
 }
],
"resolve": {"scale": {"color": "independent", "x": "independent", "y": "independent"}, "legend": {"color": "independent"}}
}
